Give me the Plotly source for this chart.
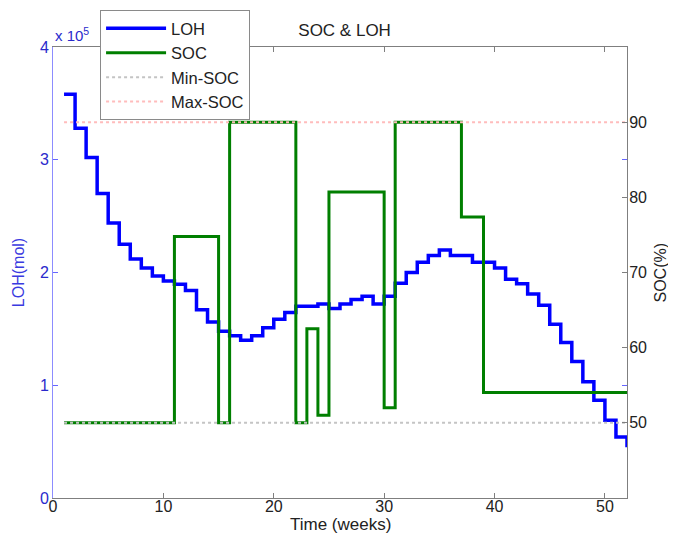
import plotly.graph_objects as go

# ---- data ----
weeks = list(range(1, 53))

loh_mol = [358000, 328000, 302000, 270000, 244000, 225000, 212000, 204000, 197000, 192500,
           189600, 184000, 167000, 156000, 148000, 144000, 140000, 144000, 151000, 158500,
           164500, 170000, 170000, 172000, 168000, 172000, 176000, 179000, 172000, 179000,
           190500, 200000, 209000, 215000, 220000, 215000, 215000, 209000, 209000, 204000,
           194000, 190000, 181000, 171000, 154000, 138000, 121000, 103000, 86600, 69000,
           54000, 45000]

soc_pct = [50, 50, 50, 50, 50, 50, 50, 50, 50, 50,
           74.8, 74.8, 74.8, 74.8, 50, 90, 90, 90, 90, 90,
           90, 50, 62.5, 51.0, 80.7, 80.7, 80.7, 80.7, 80.7, 52.0,
           90, 90, 90, 90, 90, 90, 77.4, 77.4, 54.05, 54.05,
           54.05, 54.05, 54.05, 54.05, 54.05, 54.05, 54.05, 54.05, 54.05, 54.05,
           54.05, 54.05]

MIN_SOC = 50
MAX_SOC = 90

loh_ticks = [0, 100000, 200000, 300000, 400000]
loh_ticktext = ["0", "1", "2", "3", "4"]
soc_ticks = [50, 60, 70, 80, 90]
x_ticks = [0, 10, 20, 30, 40, 50]

FONT = "Liberation Sans, Arial, Helvetica, sans-serif"
BLUE = "#0000ff"
GREEN = "#007f00"
AXIS_GRAY = "#7f7f7f"

fig = go.Figure()
fig.add_trace(go.Scatter(x=weeks, y=loh_mol, mode="lines", name="LOH",
                         line=dict(color=BLUE, width=3.5, shape="hv"), yaxis="y"))
fig.add_trace(go.Scatter(x=weeks, y=soc_pct, mode="lines", name="SOC",
                         line=dict(color=GREEN, width=3, shape="hv"), yaxis="y2"))
fig.add_trace(go.Scatter(x=weeks, y=[MIN_SOC] * len(weeks), mode="lines", name="Min-SOC",
                         line=dict(color="#c4c4c4", width=2, dash="dot"), yaxis="y2"))
fig.add_trace(go.Scatter(x=weeks, y=[MAX_SOC] * len(weeks), mode="lines", name="Max-SOC",
                         line=dict(color="#ffbcbc", width=2, dash="dot"), yaxis="y2"))

# page body has an 8px margin: figure is 660x531 placed at (8, 8)
fig.update_layout(
    width=660, height=531,
    margin=dict(l=45, r=41, t=39, b=40.5, autoexpand=False),
    paper_bgcolor="white", plot_bgcolor="white",
    font=dict(family=FONT, size=16, color="#222"),
    title=dict(text="SOC & LOH", x=0.51, xanchor="center", y=0.958, yanchor="middle",
               yref="container", font=dict(size=17, color="#222")),
    showlegend=True,
    legend=dict(x=0.082, y=1.082, xanchor="left", yanchor="top",
                bgcolor="white", bordercolor="#8a8a8a", borderwidth=1,
                font=dict(size=16.5, color="#222"), tracegroupgap=0, itemwidth=60),
    xaxis=dict(range=[0, 52], tickvals=x_ticks, ticks="inside", ticklen=5,
               tickcolor=AXIS_GRAY, showline=True, linecolor=AXIS_GRAY, linewidth=1,
               mirror="ticks", showgrid=False, zeroline=False, automargin=False,
               ticklabelstandoff=-6,
               tickfont=dict(size=16, color="#222")),
    yaxis=dict(range=[0, 400000], tickvals=loh_ticks, ticktext=loh_ticktext,
               ticks="inside", ticklen=5, tickcolor="#6666ff",
               showline=True, linecolor="#8c8cff", linewidth=1, mirror="ticks",
               showgrid=False, zeroline=False, automargin=False,
               tickfont=dict(size=16, color="#2a2acc"),
               title=dict(text="LOH(mol)", font=dict(size=16, color="#3a3ae0"), standoff=11)),
    yaxis2=dict(range=[40, 100], tickvals=soc_ticks, overlaying="y", side="right",
                ticks="inside", ticklen=5, tickcolor=AXIS_GRAY,
                showline=True, linecolor=AXIS_GRAY, linewidth=1,
                showgrid=False, zeroline=False, automargin=False,
                ticklabelstandoff=-2,
                tickfont=dict(size=16, color="#222")),
    annotations=[
        dict(text="x 10<sup>5</sup>", xref="paper", yref="paper", x=0.0, y=1.0,
             xanchor="left", yanchor="bottom", yshift=1, showarrow=False,
             font=dict(size=15, color="#2a2acc")),
        dict(text="SOC(%)", xref="paper", yref="paper", x=1.0, y=0.5,
             xanchor="center", yanchor="middle", xshift=33, textangle=-90,
             showarrow=False, font=dict(size=16, color="#222")),
        dict(text="Time (weeks)", xref="paper", yref="paper", x=0.5, y=0.0,
             xanchor="center", yanchor="middle", yshift=-26,
             showarrow=False, font=dict(size=17, color="#222")),
    ],
)

fig.write_html("out.html")
